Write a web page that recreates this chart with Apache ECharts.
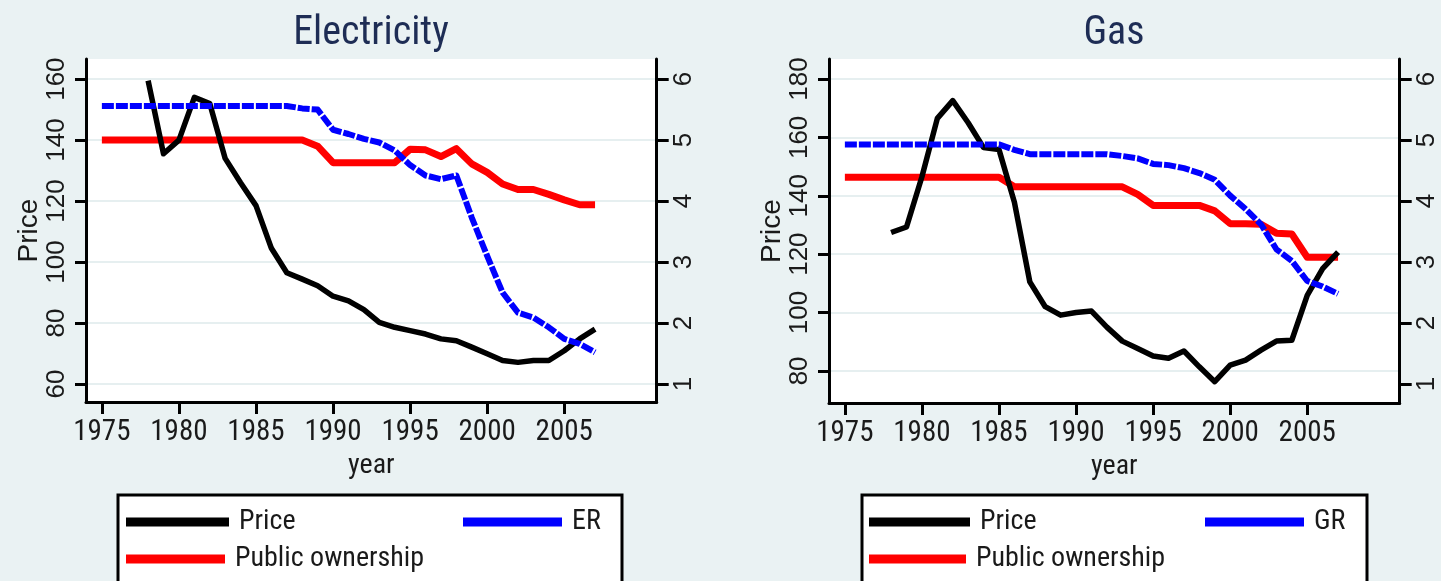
<!DOCTYPE html>
<html>
<head>
<meta charset="utf-8">
<script src="https://cdn.jsdelivr.net/npm/echarts@6/dist/echarts.min.js"></script>
<style>
  html, body { margin: 0; padding: 0; background: #eaf2f3; }
  #chart { width: 1441px; height: 581px; }
</style>
</head>
<body>
<div id="chart"></div>
<script>
  // years on the x axis
  const years = [1975, 1976, 1977, 1978, 1979, 1980, 1981, 1982, 1983, 1984, 1985, 1986, 1987, 1988, 1989,
    1990, 1991, 1992, 1993, 1994, 1995, 1996, 1997, 1998, 1999, 2000, 2001, 2002, 2003, 2004, 2005, 2006, 2007]
  const yearTicks = [1975, 1980, 1985, 1990, 1995, 2000, 2005]
  const elecPriceTicks = [60, 80, 100, 120, 140, 160]
  const gasPriceTicks = [80, 100, 120, 140, 160, 180]
  const indexTicks = [1, 2, 3, 4, 5, 6]

  // Electricity (price on left axis, indices on right axis)
  const elecPrice = [null, null, null, 159.5, 135.5, 140, 154, 152, 134, 126, 118.5, 104.5, 96.5, 94.4, 92.2,
    88.8, 87.3, 84.4, 80.2, 78.6, 77.5, 76.4, 74.8, 74.2, 72.1, 69.9, 67.7, 67.1, 67.7, 67.7, 70.9, 74.8, 78.0]
  const elecPublic = [5.0, 5.0, 5.0, 5.0, 5.0, 5.0, 5.0, 5.0, 5.0, 5.0, 5.0, 5.0, 5.0, 5.0, 4.9,
    4.63, 4.63, 4.63, 4.63, 4.63, 4.85, 4.84, 4.73, 4.86, 4.61, 4.47, 4.28, 4.19, 4.19, 4.11, 4.02, 3.94, 3.94]
  const elecER = [5.56, 5.56, 5.56, 5.56, 5.56, 5.56, 5.56, 5.56, 5.56, 5.56, 5.56, 5.56, 5.56, 5.52, 5.50,
    5.17, 5.10, 5.02, 4.96, 4.83, 4.59, 4.42, 4.36, 4.42, 3.73, 3.10, 2.50, 2.17, 2.09, 1.93, 1.74, 1.66, 1.52]

  // Gas
  const gasPrice = [null, null, null, 127.4, 129.3, 146.5, 166.5, 172.6, 165, 156.5, 155.8, 137.8, 110.5, 102, 99.1,
    100, 100.5, 95, 90.2, 87.7, 85.1, 84.3, 86.8, 81.4, 76.3, 82.0, 83.7, 87.1, 90.2, 90.5, 105.9, 115.0, 120.7]
  const gasPublic = [4.39, 4.39, 4.39, 4.39, 4.39, 4.39, 4.39, 4.39, 4.39, 4.39, 4.39, 4.235, 4.235, 4.235, 4.235,
    4.235, 4.235, 4.235, 4.235, 4.11, 3.93, 3.93, 3.93, 3.93, 3.84, 3.63, 3.63, 3.62, 3.475, 3.46, 3.08, 3.08, 3.08]
  const gasGR = [4.93, 4.93, 4.93, 4.93, 4.93, 4.93, 4.93, 4.93, 4.93, 4.93, 4.93, 4.84, 4.77, 4.77, 4.77,
    4.77, 4.77, 4.77, 4.74, 4.70, 4.61, 4.59, 4.54, 4.46, 4.35, 4.09, 3.87, 3.62, 3.21, 3.02, 2.69, 2.60, 2.48]

  const NARROW = "'Roboto Condensed', 'DejaVu Sans Condensed', sans-serif"
  const SANS = "'Liberation Sans', Arial, sans-serif"
  const TEXT = '#1a1a1a'

  const pairs = (arr) => years.map((y, i) => [y, arr[i]])

  function xAxisFor(gridIndex) {
    return {
      type: 'value',
      gridIndex: gridIndex,
      min: 1973.97,
      max: 2011,
      name: 'year',
      nameLocation: 'middle',
      nameGap: 47,
      nameTextStyle: { fontFamily: NARROW, fontSize: 28, color: TEXT },
      axisLine: { show: true, onZero: false, lineStyle: { color: '#000', width: 3 } },
      axisTick: { show: true, length: 12, customValues: yearTicks, lineStyle: { color: '#000', width: 3 } },
      axisLabel: {
        customValues: yearTicks, margin: 16, fontFamily: NARROW, fontSize: 29, color: TEXT,
        formatter: (v) => String(v)
      },
      splitLine: { show: false }
    }
  }

  function priceAxisFor(gridIndex, min, max, ticks) {
    return {
      type: 'value',
      gridIndex: gridIndex,
      position: 'left',
      min: min,
      max: max,
      name: 'Price',
      nameLocation: 'middle',
      nameGap: 42,
      nameTextStyle: { fontFamily: SANS, fontSize: 28, color: TEXT },
      axisLine: { show: true, onZero: false, lineStyle: { color: '#000', width: 3 } },
      axisTick: { show: true, length: 11, customValues: ticks, lineStyle: { color: '#000', width: 3 } },
      axisLabel: { customValues: ticks, rotate: 90, margin: 16, fontFamily: SANS, fontSize: 26, color: TEXT },
      splitLine: { show: true, lineStyle: { color: '#e6eff0', width: 2 } }
    }
  }

  function indexAxisFor(gridIndex, min) {
    return {
      type: 'value',
      gridIndex: gridIndex,
      position: 'right',
      min: min,
      max: 6.33,
      axisLine: { show: true, onZero: false, lineStyle: { color: '#000', width: 3 } },
      axisTick: { show: true, length: 12, customValues: indexTicks, lineStyle: { color: '#000', width: 3 } },
      axisLabel: { customValues: indexTicks, rotate: 90, margin: 14, fontFamily: SANS, fontSize: 26, color: TEXT },
      splitLine: { show: false }
    }
  }

  function lineSeries(name, data, xi, yi, color, width, dash, z) {
    return {
      type: 'line',
      name: name,
      xAxisIndex: xi,
      yAxisIndex: yi,
      data: pairs(data),
      showSymbol: false,
      symbol: 'none',
      color: color,
      z: z,
      lineStyle: { color: color, width: width, type: dash, join: 'round' },
      animation: false
    }
  }

  function legendItem(name, left, top, width) {
    return {
      data: [name],
      left: left,
      top: top,
      padding: 0,
      icon: 'rect',
      itemWidth: width,
      itemHeight: 9,
      selectedMode: false,
      textStyle: { fontFamily: NARROW, fontSize: 28, color: TEXT, padding: [0, 0, 0, 5] }
    }
  }

  const chart = echarts.init(document.getElementById('chart'), null, { renderer: 'canvas' })

  chart.setOption({
    backgroundColor: '#eaf2f3',
    animation: false,
    title: [
      { text: 'Electricity', left: 371, top: 14, textAlign: 'center', padding: 0,
        textStyle: { fontFamily: NARROW, fontSize: 40, fontWeight: 'normal', color: '#1e2d55' } },
      { text: 'Gas', left: 1114, top: 14, textAlign: 'center', padding: 0,
        textStyle: { fontFamily: NARROW, fontSize: 40, fontWeight: 'normal', color: '#1e2d55' } }
    ],
    grid: [
      { left: 86, top: 59, width: 570.7, height: 343, show: true, backgroundColor: '#fff', borderWidth: 0, containLabel: false },
      { left: 829, top: 59, width: 570.7, height: 344, show: true, backgroundColor: '#fff', borderWidth: 0, containLabel: false }
    ],
    xAxis: [xAxisFor(0), xAxisFor(1)],
    yAxis: [
      priceAxisFor(0, 54.1, 166.6, elecPriceTicks),
      indexAxisFor(0, 0.705),
      priceAxisFor(1, 69.0, 186.85, gasPriceTicks),
      indexAxisFor(1, 0.69)
    ],
    legend: [
      legendItem('Price', 126, 508, 103),
      legendItem('ER', 463, 508, 99),
      legendItem('Public ownership', 126, 545, 99),
      legendItem('Price', 869, 508, 101),
      legendItem('GR', 1205, 508, 99),
      legendItem('Public ownership', 869, 545, 97)
    ],
    graphic: [
      { type: 'rect', shape: { x: 118, y: 495, width: 504, height: 100 }, z: -1,
        style: { fill: '#fff', stroke: '#000', lineWidth: 3 } },
      { type: 'rect', shape: { x: 862, y: 495, width: 505, height: 100 }, z: -1,
        style: { fill: '#fff', stroke: '#000', lineWidth: 3 } }
    ],
    series: [
      lineSeries('Public ownership', elecPublic, 0, 1, '#ff0000', 7, 'solid', 2),
      lineSeries('Price', elecPrice, 0, 0, '#000000', 5.5, 'solid', 3),
      lineSeries('ER', elecER, 0, 1, '#0000ff', 6, [12, 2], 4),
      lineSeries('Public ownership', gasPublic, 1, 3, '#ff0000', 7, 'solid', 2),
      lineSeries('Price', gasPrice, 1, 2, '#000000', 5.5, 'solid', 3),
      lineSeries('GR', gasGR, 1, 3, '#0000ff', 6, [12, 2], 4)
    ]
  })
</script>
</body>
</html>
